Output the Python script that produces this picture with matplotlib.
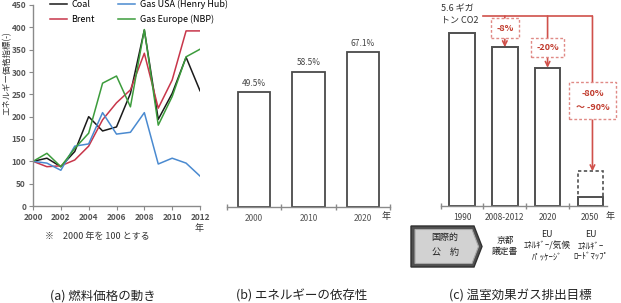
import matplotlib
matplotlib.use("Agg")
import matplotlib.pyplot as plt
from matplotlib.patches import Polygon, Rectangle
import numpy as np

plt.rcParams['font.family'] = ['Noto Sans CJK JP', 'DejaVu Sans']

# ---------------- data ----------------
years = [2000, 2001, 2002, 2003, 2004, 2005, 2006, 2007, 2008, 2009, 2010, 2011, 2012]
coal = [100, 107, 88, 122, 200, 168, 177, 252, 394, 194, 252, 333, 258]
brent = [100, 88, 90, 103, 134, 193, 231, 260, 342, 219, 282, 392, 392]
gas_usa = [100, 96, 80, 134, 139, 209, 161, 165, 209, 94, 107, 96, 67]
gas_eu = [100, 118, 88, 129, 163, 275, 291, 222, 395, 181, 245, 334, 351]
series_names = ['Coal', 'Brent', 'Gas USA (Henry Hub)', 'Gas Europe (NBP)']
xticks_a = [2000, 2002, 2004, 2006, 2008, 2010, 2012]

dep_years = ['2000', '2010', '2020']
dep_values = [49.5, 58.5, 67.1]

ghg_cats = ['1990', '2008-2012', '2020', '2050']
ghg_values = [5.6, 5.15, 4.48, 0.28]      # solid bars (gigatonnes CO2)
ghg_2050_upper = 1.12                       # dashed range top for 2050
ghg_labels = ['-8%', '-20%', '-80%\n～ -90%']
agreements = ['京都\n議定書', 'EU\nｴﾈﾙｷﾞｰ/気候\nﾊﾟｯｹｰｼﾞ', 'EU\nｴﾈﾙｷﾞｰ\nﾛｰﾄﾞﾏｯﾌﾟ']

# ---------------- figure ----------------
W, H = 621, 303
fig = plt.figure(figsize=(W / 100, H / 100), dpi=100)

def px_axes(x0, y0, x1, y1, **kw):
    ax = fig.add_axes([x0 / W, 1 - y1 / H, (x1 - x0) / W, (y1 - y0) / H], **kw)
    ax.set_facecolor('none')
    return ax

# overlay for free text (pixel coordinates)
ov = px_axes(0, 0, W, H)
ov.set_xlim(0, W)
ov.set_ylim(H, 0)
ov.axis('off')

txt_col = '#333333'
spine_col = '#8a8a8a'

# ---------------- (a) fuel prices ----------------
axA = px_axes(33, 5, 200, 206)
colors = ['#1a1a1a', '#c8364a', '#4a8ad0', '#3c9c3c']
for vals, name, c in zip([coal, brent, gas_usa, gas_eu], series_names, colors):
    axA.plot(years, vals, color=c, lw=1.1, label=name)
axA.set_xlim(2000, 2012)
axA.set_ylim(0, 450)
axA.set_yticks(np.arange(0, 451, 50))
axA.set_xticks(xticks_a)
for s in ['top', 'right']:
    axA.spines[s].set_visible(False)
for s in ['left', 'bottom']:
    axA.spines[s].set_color(spine_col)
    axA.spines[s].set_linewidth(1.0)
axA.tick_params(axis='both', labelsize=6, colors=spine_col, labelcolor='#555555',
                length=3, width=0.8, direction='out', pad=2)
for lab in axA.get_xticklabels() + axA.get_yticklabels():
    lab.set_fontweight('bold')
handles, labels = axA.get_legend_handles_labels()
axA.legend(handles, labels, ncol=2, loc='upper left', bbox_to_anchor=(0.10, 1.025),
           frameon=False, fontsize=6.5, handlelength=1.9, columnspacing=2.6,
           labelspacing=0.6, handletextpad=0.5, borderaxespad=0, borderpad=0)
ov.text(6.5, 73, 'エネルギー価格指標(-)', rotation=90, ha='center', va='center',
        fontsize=6, color=txt_col)
ov.text(199, 228, '年', ha='center', va='center', fontsize=6.5, color=txt_col)
ov.text(45, 237, '※　2000 年を 100 とする', ha='left', va='center', fontsize=6.5,
        color=txt_col)

# ---------------- (b) dependence ----------------
axB = px_axes(227, 30, 390, 206.7)
xb = np.arange(len(dep_years))
axB.bar(xb, dep_values, width=0.6, color='white', edgecolor='#4a4a4a', lw=1.3)
for x, v in zip(xb, dep_values):
    axB.annotate(f'{v}%', (x, v), xytext=(0, 3), textcoords='offset points',
                 ha='center', va='bottom', fontsize=6, color='#444444')
axB.set_xlim(-0.5, 2.5)
axB.set_ylim(0, 76.5)
for s in ['top', 'right', 'left']:
    axB.spines[s].set_visible(False)
axB.spines['bottom'].set_color(spine_col)
axB.spines['bottom'].set_linewidth(1.0)
axB.set_yticks([])
axB.set_xticks(xb)
axB.set_xticklabels(dep_years)
axB.set_xticks([-0.5, 0.5, 1.5, 2.5], minor=True)
axB.tick_params(axis='x', which='major', length=0, labelsize=6, labelcolor='#555555', pad=5)
axB.tick_params(axis='x', which='minor', length=4, width=1, direction='inout', color=spine_col)
ov.text(386, 216, '年', ha='center', va='center', fontsize=6.5, color=txt_col)

# ---------------- (c) GHG targets ----------------
axC = px_axes(440.7, 5, 607, 205.7)
xc = np.arange(len(ghg_cats))
axC.bar(xc, ghg_values, width=0.6, color='white', edgecolor='#505050', lw=1.4, zorder=2)
# dashed range for 2050
axC.add_patch(Rectangle((xc[3] - 0.3, 0), 0.6, ghg_2050_upper, fill=False,
                        ls=(0, (2, 1.5)), ec='#505050', lw=1.2, zorder=2))
axC.set_xlim(-0.5, 3.39)
axC.set_ylim(0, 6.52)
for s in ['top', 'right', 'left']:
    axC.spines[s].set_visible(False)
axC.spines['bottom'].set_color(spine_col)
axC.spines['bottom'].set_linewidth(1.0)
axC.set_yticks([])
axC.set_xticks(xc)
axC.set_xticklabels(ghg_cats)
axC.set_xticks([-0.5, 0.5, 1.5, 2.5], minor=True)
axC.tick_params(axis='x', which='major', length=0, labelsize=6, labelcolor='#444444', pad=5)
axC.tick_params(axis='x', which='minor', length=4, width=1, direction='inout', color=spine_col)
ov.text(610, 216.5, '年', ha='center', va='center', fontsize=6.5, color=txt_col)
ov.text(441, 15, '5.6 ギガ\nトン CO2', ha='left', va='center', fontsize=6.5,
        color=txt_col, linespacing=1.35)

red = '#d0504a'
top_y = 6.16
line_x = [1.0, 2.0, 3.05]
targets = [ghg_values[1], ghg_values[2], ghg_2050_upper]
box_y = [5.76, 5.14, 3.42]
box_pad = [0.6, 0.55, 0.75]
axC.plot([0.48, line_x[2]], [top_y, top_y], color=red, lw=1.2, clip_on=False, zorder=3)
for lx, tgt, by, lab, bp in zip(line_x, targets, box_y, ghg_labels, box_pad):
    axC.annotate('', xy=(lx, tgt), xytext=(lx, top_y),
                 arrowprops=dict(arrowstyle='->', color=red, lw=1.2,
                                 shrinkA=0, shrinkB=0, mutation_scale=8),
                 annotation_clip=False, zorder=3)
    axC.text(lx, by, lab, ha='center', va='center', fontsize=6.5, color='#c0392b',
             fontweight='bold', zorder=4, clip_on=False, linespacing=1.7,
             bbox=dict(boxstyle=f'square,pad={bp}', fc='white', ec='#e08a86',
                       ls=(0, (2, 1.5)), lw=1.0))

# agreement box
outer = Polygon([(411, 226), (474, 226), (482, 246.5), (474, 267), (411, 267)],
                closed=True, fc='#505050', ec='#303030', lw=1.0)
inner = Polygon([(415, 229.5), (472, 229.5), (478.5, 246.5), (472, 263.5), (415, 263.5)],
                closed=True, fc='#d2d2d2', ec='#a8a8a8', lw=0.8)
ov.add_patch(outer)
ov.add_patch(inner)
ov.text(445, 237.5, '国際的', ha='center', va='center', fontsize=6.5, color='#222222')
ov.text(445, 252.5, '公　約', ha='center', va='center', fontsize=6.5, color='#222222')
for x_px, lab in zip([505, 547, 591], agreements):
    ov.text(x_px, 246, lab, ha='center', va='center', fontsize=6.3, color='#222222',
            linespacing=1.35)

# captions
ov.text(103, 296, '(a) 燃料価格の動き', ha='center', va='center', fontsize=9, color='#222222')
ov.text(302, 296, '(b) エネルギーの依存性', ha='center', va='center', fontsize=9, color='#222222')
ov.text(520, 296, '(c) 温室効果ガス排出目標', ha='center', va='center', fontsize=9, color='#222222')

fig.savefig('out.png', dpi=100)
